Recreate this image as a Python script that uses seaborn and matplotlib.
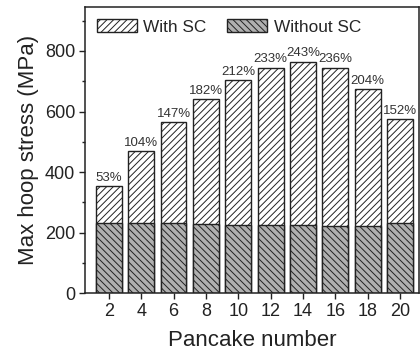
import matplotlib
matplotlib.use("Agg")
import matplotlib.pyplot as plt
import seaborn as sns
import pandas as pd
from matplotlib.patches import Patch
from matplotlib.ticker import MultipleLocator

pancakes = ["2", "4", "6", "8", "10", "12", "14", "16", "18", "20"]
with_sc = [354, 469, 564, 640, 704, 745, 765, 745, 674, 575]
without_sc = [231, 230, 230, 227, 226, 226, 226, 221, 221, 230]
increase = ["53%", "104%", "147%", "182%", "212%", "233%", "243%", "236%", "204%", "152%"]

sns.set_theme(style="ticks")
plt.rcParams['font.family'] = ['Liberation Sans', 'DejaVu Sans']
plt.rcParams['hatch.linewidth'] = 0.7

grey = "#b0b0b0"
df = pd.DataFrame({"Pancake": pancakes, "With SC": with_sc, "Without SC": without_sc})

fig = plt.figure(figsize=(4.2, 3.54), dpi=100)
ax = fig.add_axes([0.202, 0.172, 0.796, 0.808])

sns.barplot(data=df, x="Pancake", y="With SC", color="white", edgecolor="#222222",
            linewidth=1.0, width=0.8, ax=ax)
n_with = len(ax.patches)
sns.barplot(data=df, x="Pancake", y="Without SC", color=grey, edgecolor="#222222",
            linewidth=1.0, width=0.8, ax=ax)
for i, p in enumerate(ax.patches):
    p.set_facecolor("white" if i < n_with else grey)
    p.set_hatch("/////" if i < n_with else "\\\\\\\\\\")

for i, (v, t) in enumerate(zip(with_sc, increase)):
    ax.text(i, v + 7, t, ha="center", va="bottom", fontsize=9.5, color="#333333")

ax.set_xlim(-0.74, 9.59)
ax.set_ylim(0, 945)
ax.yaxis.set_major_locator(MultipleLocator(200))
ax.yaxis.set_minor_locator(MultipleLocator(100))
ax.tick_params(axis="both", which="major", direction="out", length=4, width=1,
               labelsize=13, colors="#222222", pad=3)
ax.tick_params(axis="y", which="minor", direction="out", length=2.5, width=1, colors="#222222")
for s in ax.spines.values():
    s.set_linewidth(1.1)
    s.set_color("#222222")
ax.set_xlabel("Pancake number", fontsize=16, color="#222222", labelpad=7)
ax.set_ylabel("Max hoop stress (MPa)", fontsize=16, color="#222222", labelpad=4)

handles = [Patch(facecolor="white", edgecolor="#222222", hatch="/////", label="With SC"),
           Patch(facecolor=grey, edgecolor="#222222", hatch="\\\\\\\\\\", label="Without SC")]
ax.legend(handles=handles, loc="upper left", ncol=2, frameon=False, fontsize=12.4,
          handlelength=2.3, handleheight=0.8, columnspacing=1.2, handletextpad=0.4,
          borderaxespad=0.3, bbox_to_anchor=(0.0, 1.0))

fig.savefig("out.png", dpi=100)
